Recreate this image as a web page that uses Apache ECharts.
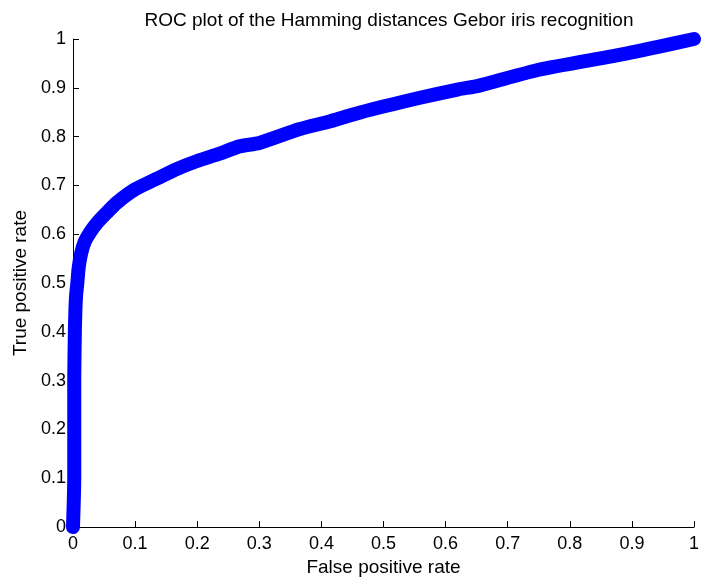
<!DOCTYPE html>
<html>
<head>
<meta charset="utf-8">
<script src="https://cdn.jsdelivr.net/npm/echarts@6/dist/echarts.min.js"></script>
<style>html,body{margin:0;padding:0;background:#fff;}#c{width:702px;height:582px;}</style>
</head>
<body>
<div id="c"></div>
<script>
var titleText = 'ROC plot of the Hamming distances Gebor iris recognition';
var xName = 'False positive rate';
var yName = 'True positive rate';
var fpr = [0, 0.002, 0.002, 0.002, 0.003, 0.004, 0.005, 0.007, 0.009, 0.013, 0.019, 0.028, 0.04, 0.055, 0.07, 0.1, 0.132, 0.166, 0.2, 0.236, 0.268, 0.3, 0.364, 0.41, 0.461, 0.557, 0.621, 0.653, 0.75, 0.878, 0.942, 1];
var tpr = [0, 0.1, 0.2, 0.3, 0.4, 0.45, 0.475, 0.5, 0.53, 0.56, 0.585, 0.605, 0.625, 0.645, 0.664, 0.692, 0.712, 0.733, 0.75, 0.765, 0.78, 0.787, 0.815, 0.83, 0.849, 0.879, 0.897, 0.904, 0.937, 0.967, 0.984, 1];

var pts = fpr.map(function (x, i) { return [x, tpr[i]]; });
var font = 'Liberation Sans, Arial, sans-serif';
var chart = echarts.init(document.getElementById('c'), null, {renderer: 'canvas'});
var axisCommon = {
  type: 'value', min: 0, max: 1, interval: 0.1,
  axisLine: {show: true, onZero: false, lineStyle: {color: '#000', width: 1}},
  axisTick: {show: true, inside: true, length: 6, lineStyle: {color: '#000'}},
  splitLine: {show: false},
  axisLabel: {color: '#000', fontSize: 18, fontFamily: font},
  nameTextStyle: {color: '#000', fontSize: 19, fontFamily: font},
  nameLocation: 'middle'
};
chart.setOption({
  backgroundColor: '#fff',
  animation: false,
  title: {
    text: titleText, left: 384, textAlign: 'center', top: 6,
    textStyle: {color: '#000', fontSize: 19, fontWeight: 'normal', fontFamily: font}
  },
  grid: {left: 73, right: 6, top: 39, bottom: 52},
  xAxis: Object.assign({}, axisCommon, {name: xName, nameGap: 29, axisLabel: Object.assign({}, axisCommon.axisLabel, {margin: 8})}),
  yAxis: Object.assign({}, axisCommon, {name: yName, nameGap: 43, nameRotate: 90, axisLabel: Object.assign({}, axisCommon.axisLabel, {margin: 7})}),
  series: [{
    type: 'line', data: pts, symbol: 'none', clip: false, smooth: 0.2,
    lineStyle: {color: '#0000ff', width: 14, cap: 'round', join: 'round'}
  }]
});
</script>
</body>
</html>
